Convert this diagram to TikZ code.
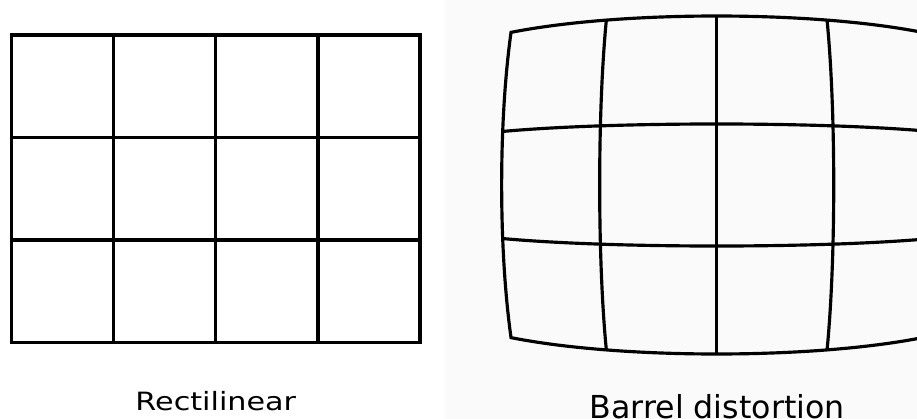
\documentclass[tikz,border=0pt]{standalone}
\usepackage{fontspec}
\setmainfont{DejaVu Sans}
\usepackage{graphicx}
\tikzset{gridline/.style={line width=2.7pt, line join=miter}}
\begin{document}
\begin{tikzpicture}[x=0.03cm,y=-0.03cm,
  declare function={bx(\p,\q)=716.7+120.2*\p*(1-0.02635*\p*\p-0.0271*\q*\q+0.00244*\p*\p*\q*\q);
                    by(\p,\q)=185+123.2*\q*(1-0.0313*\p*\p-0.038*\q*\q+0.00408*\p*\p*\q*\q);}]
\clip (0,0) rectangle (917,419);
\fill[white] (0,0) rectangle (445,419);
\fill[black!2] (445,0) rectangle (917,419);
% rectilinear grid
\draw[gridline] (11.7,35) rectangle (420,342.5);
\foreach \i in {1,2,3} \draw[gridline] ({11.7+102.1*\i},35) -- ({11.7+102.1*\i},342.5);
\foreach \j in {1,2} \draw[gridline] (11.7,{35+102.5*\j}) -- (420,{35+102.5*\j});
% barrel grid
\draw[gridline] plot[domain=-2:2,samples=41] ({bx(\x,-1.5)},{by(\x,-1.5)})
  -- plot[domain=-1.5:1.5,samples=31] ({bx(2,\x)},{by(2,\x)})
  -- plot[domain=2:-2,samples=41] ({bx(\x,1.5)},{by(\x,1.5)})
  -- plot[domain=1.5:-1.5,samples=31] ({bx(-2,\x)},{by(-2,\x)}) -- cycle;
\foreach \c in {-1,0,1} \draw[gridline] plot[domain=-1.5:1.5,samples=31] ({bx(\c,\x)},{by(\c,\x)});
\foreach \r in {-0.5,0.5} \draw[gridline] plot[domain=-2:2,samples=41] ({bx(\x,\r)},{by(\x,\r)});
% labels
\node[font=\fontsize{21.5}{25}\selectfont, anchor=base] (rectlabel) at (215.8,410.7) {\scalebox{1.2}[1]{Rectilinear}};
\node[font=\fontsize{27}{32}\selectfont, anchor=base] (barrellabel) at (717.2,418) {Barrel distortion};
\end{tikzpicture}
\end{document}
